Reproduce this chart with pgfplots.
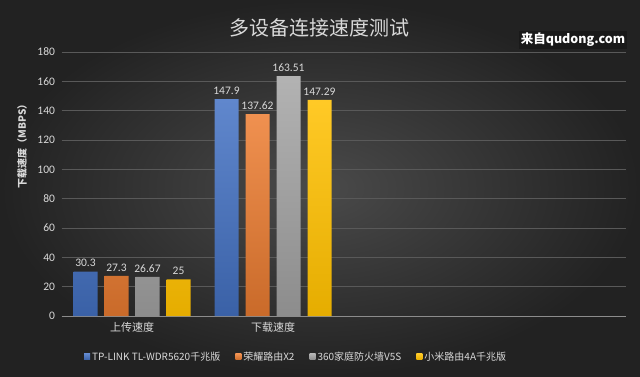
\documentclass[border=0pt]{standalone}
\usepackage{fontspec}
\setmainfont{Carlito}
\newfontfamily\cjk{Noto Sans CJK SC}
\usepackage{pgfplots}
\pgfplotsset{compat=1.18}
\definecolor{bgin}{HTML}{4A4A4A}
\definecolor{bgout}{HTML}{222222}
\definecolor{txt}{HTML}{D9D9D9}
\definecolor{gridc}{HTML}{595959}
\definecolor{zeroc}{HTML}{8C8C8C}
\definecolor{cblue}{HTML}{4472C4}
\definecolor{corange}{HTML}{ED7D31}
\definecolor{cgray}{HTML}{A5A5A5}
\definecolor{cgold}{HTML}{FFC000}
\begin{document}
\begin{tikzpicture}[x=1pt,y=1pt]
\useasboundingbox (0pt,0pt) rectangle (640pt,376pt);
\shade[inner color=bgin, outer color=bgout] (0pt,0pt) rectangle (640pt,376pt);
\begin{axis}[
  at={(61.5pt,60pt)}, anchor=south west,
  scale only axis, width=564pt, height=264pt,
  ybar=7pt, bar width=24pt,
  xmin=-0.5, xmax=3.5, ymin=0, ymax=180,
  ytick={0,20,...,180},
  xtick={0,1}, xticklabels={上传速度,下载速度},
  ytick pos=left, xtick pos=bottom,
  x tick label style={font=\cjk\fontsize{11}{13}\selectfont, yshift=-3pt},
  y tick label style={font=\fontsize{11.5}{13}\selectfont, xshift=-3pt},
  tick label style={color=txt},
  /pgf/number format/assume math mode=true,
  major tick length=0pt,
  tick style={draw=none},
  axis line style={draw=none},
  ymajorgrids, grid style={color=gridc, line width=0.8pt},
  extra y ticks={0}, extra y tick labels={},
  extra y tick style={grid style={color=zeroc, line width=1pt}, major tick length=0pt, tick style={draw=none}},
  nodes near coords,
  every node near coord/.append style={color=txt, font=\fontsize{11.5}{13}\selectfont, yshift=1pt},
  legend columns=4,
  legend style={at={(0.416,-0.155)}, anchor=center, draw=none, fill=none,
    text=txt, font=\cjk\fontsize{10}{12}\selectfont,
    /tikz/every even column/.append style={column sep=13pt}},
  legend image code/.code={\fill[#1] (0pt,-3pt) rectangle (6pt,3pt);},
]
\addplot[draw=none, top color=cblue!85!white, bottom color=cblue!85!black] coordinates {(0,30.3) (1,147.9)};
\addplot[draw=none, top color=corange!85!white, bottom color=corange!85!black] coordinates {(0,27.3) (1,137.62)};
\addplot[draw=none, top color=cgray!85!white, bottom color=cgray!85!black] coordinates {(0,26.67) (1,163.51)};
\addplot[draw=none, top color=cgold!85!white, bottom color=cgold!90!black] coordinates {(0,25) (1,147.29)};
\legend{TP-LINK TL-WDR5620千兆版,荣耀路由X2,360家庭防火墙V5S,小米路由4A千兆版}
\end{axis}
\node[color=txt, font=\cjk\fontsize{20}{24}\selectfont] at (319pt,348.5pt) {多设备连接速度测试};
\node[fill=black, fill opacity=0.25, text opacity=1, text=white, inner sep=2pt,
  font=\cjk\bfseries\fontsize{12.5}{15}\selectfont] at (573pt,336pt) {来自qudong.com};
\node[rotate=90, color=txt, font=\cjk\bfseries\fontsize{10}{12}\selectfont] at (22pt,232pt) {下载速度（MBPS）};
\end{tikzpicture}
\end{document}
